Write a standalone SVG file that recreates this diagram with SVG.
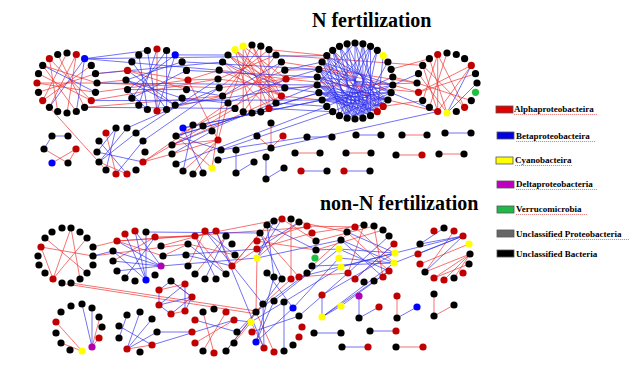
<svg xmlns="http://www.w3.org/2000/svg" width="634" height="381" viewBox="0 0 634 381">
<style>
circle{r:3.6px}
.k{fill:#000}.r{fill:#c00000}.b{fill:#0000ff}.y{fill:#ffff00}.g{fill:#20c040}.m{fill:#b000b0}
.re{fill:none;stroke:#ee3030;stroke-width:0.8;opacity:0.85}
.be{fill:none;stroke:#3030ee;stroke-width:0.8;opacity:0.85}
.title{font-family:"Liberation Serif",serif;font-weight:bold;font-size:20px;fill:#000}
.lt{font-family:"Liberation Serif",serif;font-weight:bold;font-size:9px;fill:#000}
.sq{stroke:#555;stroke-width:0.8}
.ul{stroke:#e05050;stroke-width:0.7;stroke-dasharray:1.2 0.8;fill:none}
</style>
<rect width="634" height="381" fill="#fff"/>
<text class="title" x="312" y="27">N fertilization</text>
<text class="title" x="320" y="210">non-N fertilization</text>

<g id="connectors">
<path class="re" d="M37 83L97 83M38.5 73.7L91.3 100.6M42.7 65.4L76.3 111.5M49.4 58.7L57.7 111.5M76.3 54.5L49.4 107.3M67 53L42.7 100.6M57.7 54.5L84.6 107.3M38.5 92.3L95.5 73.7M42.7 100.6L91.3 65.4M37 83L95.5 92.3M49.4 58.7L91.3 100.6M76.3 54.5L67 113M42.7 65.4L97 83
M49.4 107.3L106 170M97 83L126 80M95.5 73.7L127.5 70.4M91.3 100.6L218 79M97 83L219.2 87.8M95.5 92.3L188 80M84.6 107.3L222.6 96
M127.5 70.4L188 80M157 49L157 111M188 80L218 79M188 80L219.2 70.2M188 80L218 140M157 111L222.6 96M127.5 70.4L186.5 89.6
M235 49.6L281.4 96M235 49.6L276 103M243.2 46.2L269 108.4M252 45L281.4 96M260.8 46.2L260.8 111.8M269 49.6L269 108.4M228 55L284.8 87.8M222.6 62L281.4 96M219.2 70.2L286 79M243.2 46.2L286 79M252 45L228 103M260.8 46.2L222.6 96M269 49.6L219.2 87.8M276 55L235 108.4M281.4 62L243.2 111.8M235 49.6L252 113M243.2 46.2L243.2 111.8M228 55L276 103M222.6 62L269 108.4M219.2 70.2L281.4 96M218 79L284.8 87.8M219.2 87.8L286 79M252 45L276 103M276 55L218 79M284.8 70.2L222.6 96M235 49.6L284.8 87.8M228 55L281.4 96
M286 79L317.2 77M284.8 70.2L318.9 69.3M281.4 62L417 83M276 55L422.7 65.4M286 79L418.5 92.3M284.8 87.8L417 83M269 49.6L326.8 55.6M281.4 96L322.1 100
M228 103L143 162M235 108.4L143 162M222.6 96L212 168M228 103L218 140M176 136L286 79M172 145L281.4 96
M322.1 62L383.2 106.4M332.7 50.3L377.3 111.7M317.2 77L387.9 100M318.9 69.3L392.8 85
M392.8 77L417 83M391.1 69.3L429.4 58.7M387.9 100L437.7 111.5M392.8 85L418.5 92.3M383.2 106.4L422.7 100.6
M437.7 54.5L437.7 111.5M422.7 65.4L464.6 107.3M418.5 73.7L447 113M417 83L471.3 100.6M418.5 92.3L471.3 65.4M437.7 54.5L464.6 107.3M429.4 58.7L447 113M447 53L429.4 107.3M471.3 65.4L437.7 111.5M437.7 54.5L422.7 100.6M418.5 92.3L475.5 73.7M422.7 65.4L437.7 111.5
M106 133L116 174M99 162L127 174M143 162L172 154
M218 140L172 154M218 140L172 145M218 140L183 171M212 168L176 136M218 140L193 174
M44 149L68 163M76 149L52 163M76 149L68 163
M271 123L271 148M257 136L271 148M283 136L271 148M295 153L320 153M346 153L371 153M396 155L422 155M439 154L464 154M402 135L427 135"/>
<path class="be" d="M84.6 58.7L76.3 111.5M84.6 58.7L49.4 107.3M42.7 65.4L95.5 92.3
M84.6 58.7L147.4 50.5M84.6 58.7L219.2 70.2M84.6 58.7L326.8 55.6M95.5 73.7L222.6 62M97 83L317.2 85M91.3 100.6L322.1 100M84.6 107.3L235 108.4
M157 49L138.8 105.1M166.6 50.5L131.9 98.2M147.4 50.5L157 111M175.2 54.9L127.5 89.6M182.1 61.8L126 80M131.9 61.8L166.6 109.5M126 80L182.1 98.2M127.5 89.6L147.4 109.5M126 80L175.2 105.1M131.9 98.2L186.5 70.4M138.8 54.9L147.4 109.5M175.2 54.9L157 111M127.5 89.6L186.5 89.6M166.6 50.5L166.6 109.5M127.5 70.4L175.2 105.1
M175.2 54.9L228 55M182.1 61.8L318.9 69.3M186.5 70.4L317.2 77M186.5 89.6L222.6 96M182.1 98.2L228 103M175.2 105.1L317.2 85
M281.4 62L222.6 96M286 79L228 103M222.6 62L284.8 87.8
M284.8 70.2L322.1 62M284.8 87.8L318.9 92.7M276 103L326.8 106.4M269 108.4L332.7 111.7M286 79L318.9 69.3
M322.1 100L392.8 85M322.1 100L391.1 92.7M322.1 100L387.9 100M322.1 100L383.2 106.4M322.1 100L377.3 111.7
M318.9 92.7L391.1 92.7M318.9 92.7L387.9 100M318.9 92.7L383.2 106.4M318.9 92.7L377.3 111.7M318.9 92.7L370.5 115.7
M317.2 85L387.9 100M317.2 85L383.2 106.4M317.2 85L377.3 111.7M317.2 85L370.5 115.7M317.2 85L362.9 118.2
M317.2 77L392.8 85M317.2 77L387.9 100M317.2 77L377.3 111.7M317.2 77L362.9 118.2M317.2 77L355 119
M318.9 69.3L391.1 92.7M318.9 69.3L383.2 106.4M318.9 69.3L370.5 115.7M318.9 69.3L355 119M318.9 69.3L347.1 118.2
M322.1 62L392.8 85M322.1 62L387.9 100M322.1 62L377.3 111.7M322.1 62L362.9 118.2M322.1 62L347.1 118.2
M326.8 55.6L391.1 92.7M326.8 55.6L383.2 106.4M326.8 55.6L370.5 115.7M326.8 55.6L355 119M326.8 55.6L339.5 115.7
M332.7 50.3L387.9 100M332.7 50.3L370.5 115.7M332.7 50.3L362.9 118.2M332.7 50.3L347.1 118.2
M339.5 46.3L383.2 106.4M339.5 46.3L370.5 115.7M339.5 46.3L355 119
M347.1 43.8L377.3 111.7M347.1 43.8L362.9 118.2M347.1 43.8L347.1 118.2
M355 43L383.2 106.4M355 43L370.5 115.7M355 43L355 119
M362.9 43.8L377.3 111.7M362.9 43.8L362.9 118.2M362.9 43.8L347.1 118.2
M370.5 46.3L370.5 115.7M370.5 46.3L355 119M370.5 46.3L339.5 115.7
M377.3 50.3L362.9 118.2M377.3 50.3L347.1 118.2M387.9 62L355 119M383.2 55.6L377.3 111.7
M339.5 115.7L391.1 92.7M332.7 111.7L392.8 85M326.8 106.4L392.8 77M347.1 118.2L387.9 100M355 43L317.2 85M370.5 46.3L322.1 100
M392.8 85L418.5 73.7M391.1 92.7L437.7 111.5
M322.1 100L183 128M318.9 92.7L176 136M127 128L219.2 87.8M218 160L437.7 111.5
M447 113L471.3 65.4M447 113L477 83
M99 141L127 174M97 152L116 128M99 162L136 133M97 152L143 162M106 170L116 128M116 174L143 141M127 128L99 162
M143 141L219.2 87.8M136 133L218 79
M183 128L203 173M176 136L221 150M193 125L183 171M172 154L212 131
M183 128L322.1 100M176 136L318.9 92.7M172 145L317.2 85M176 164L326.8 106.4M221 150L332.7 111.7
M52 136L68 136M44 149L52 136M236 150L236 173M236 173L254 162M266 157L266 179M266 179L284 168M301 171L327 171M344 171L370 171M356 135L381 135M445 133L471 133M307 137L332 137M221 150L307 137"/>

<path class="re" d="M41 247L53 279M53 279L87 238M53 279L71 228M71 228L80 279M41 247L93 256M45 238L87 273
M71 283L256 311M66 284L257 314M93 247L117 241M117 241L195 236M195 236L282 219M93 256L188 244M117 241L312 227
M155 237L113 261M117 241L163 256M155 237L195 236M163 256L188 244M161 246L216 231
M195 236L226 274M205 231L188 266M216 231L232 266M188 244L235 255M226 236L195 274M232 266L257 249M232 266L267 225M232 266L260 233
M257 241L307 226M257 249L312 233M257 258L299 222M257 241L316 250M282 219L316 241M260 233L299 277M291 219L291 279
M307 226L355 227M312 233L364 225M316 241L374 226M299 222L347 232M312 266L355 227M316 250L383 230M299 277L348 273
M257 258L256 311M291 279L256 311
M355 227L394 263M347 232L389 271M364 225L348 273M394 244L355 279M374 226L383 277
M470 254L434 278M470 254L444 280M470 254L454 278M470 254L425 272M469 264L434 278M469 244L420 264M454 231L425 272
M56 322L82 351M61 343L82 351M99 338L92 347M100 317L92 347
M127 349L152 345
M159 290L185 284M171 314L185 311M171 281L192 297
M226 312L203 351M203 312L214 353M234 320L195 343M226 351L256 312M234 343L251 322
M251 322L264 348M256 312L274 352
M397 296L397 318M434 294L434 316M434 316L454 305M396 347L423 347"/>
<path class="be" d="M93 256L113 251
M125 234L146 280M135 231L146 280M113 251L161 266M117 241L161 266M113 261L161 266M146 232L146 280M155 237L125 278M135 231L161 266M117 271L161 266M113 251L146 280
M146 232L260 233M161 266L257 258M163 256L257 249
M188 244L226 274M205 231L235 255M226 236L205 279M186 255L232 266M195 236L216 279
M216 231L264 348M205 231L263 304
M267 225L274 277M274 221L257 258M282 219L257 258M267 225L316 250M299 222L257 249M260 233L282 279
M316 250L339 249M257 258L341 240M312 266L394 263M299 277L395 253
M274 277L256 342M282 279L263 304M267 273L293 308M307 273L256 312
M341 240L394 263M339 249L395 253M339 258L394 263M341 267L395 253M348 273L389 236M339 249L389 271M347 232L395 253M355 279L394 244M341 240L383 277
M394 263L322 317M395 253L322 295M389 271L341 306M389 271L322 317
M395 253L463 236M394 263L463 236
M463 236L420 244M463 236L418 254M463 236L425 272M444 228L420 244
M82 304L92 347M92 308L92 347
M127 315L119 338M127 349L140 312M127 349L152 319M127 349L157 332M119 326L152 345
M152 345L234 320M157 332L192 332
M159 290L159 305M159 305L171 314M159 290L171 281M171 281L192 297M159 305L192 297M185 311L192 297M185 284L185 311M185 284L159 305M171 314L192 297
M195 320L237 332M237 332L256 312M234 320L251 322M226 351L263 304
M274 301L256 342M284 302L251 322M263 304L264 348M293 308L256 342M299 316L252 332M284 302L284 351
M284 302L341 267M293 308L339 258M299 316L348 273M274 301L339 249
M322 295L322 317M359 296L359 318M359 318L379 307M397 318L417 307M314 333L341 333M370 331L396 331M342 347L368 347M322 317L341 306"/>
</g>

<g id="clusterA">
<circle class="k" cx="67" cy="53"/><circle class="r" cx="76.3" cy="54.5"/><circle class="b" cx="84.6" cy="58.7"/><circle class="k" cx="91.3" cy="65.4"/><circle class="k" cx="95.5" cy="73.7"/><circle class="k" cx="97" cy="83"/><circle class="k" cx="95.5" cy="92.3"/><circle class="r" cx="91.3" cy="100.6"/><circle class="k" cx="84.6" cy="107.3"/><circle class="k" cx="76.3" cy="111.5"/><circle class="k" cx="67" cy="113"/><circle class="k" cx="57.7" cy="111.5"/><circle class="k" cx="49.4" cy="107.3"/><circle class="r" cx="42.7" cy="100.6"/><circle class="k" cx="38.5" cy="92.3"/><circle class="r" cx="37" cy="83"/><circle class="k" cx="38.5" cy="73.7"/><circle class="k" cx="42.7" cy="65.4"/><circle class="r" cx="49.4" cy="58.7"/><circle class="k" cx="57.7" cy="54.5"/>
</g>
<g id="clusterB">
<circle class="r" cx="157" cy="49"/><circle class="k" cx="166.6" cy="50.5"/><circle class="b" cx="175.2" cy="54.9"/><circle class="k" cx="182.1" cy="61.8"/><circle class="k" cx="186.5" cy="70.4"/><circle class="r" cx="188" cy="80"/><circle class="k" cx="186.5" cy="89.6"/><circle class="k" cx="182.1" cy="98.2"/><circle class="k" cx="175.2" cy="105.1"/><circle class="k" cx="166.6" cy="109.5"/><circle class="r" cx="157" cy="111"/><circle class="k" cx="147.4" cy="109.5"/><circle class="k" cx="138.8" cy="105.1"/><circle class="k" cx="131.9" cy="98.2"/><circle class="k" cx="127.5" cy="89.6"/><circle class="k" cx="126" cy="80"/><circle class="r" cx="127.5" cy="70.4"/><circle class="k" cx="131.9" cy="61.8"/><circle class="k" cx="138.8" cy="54.9"/><circle class="k" cx="147.4" cy="50.5"/>
</g>
<g id="clusterC">
<circle class="k" cx="252" cy="45"/><circle class="k" cx="260.8" cy="46.2"/><circle class="k" cx="269" cy="49.6"/><circle class="k" cx="276" cy="55"/><circle class="k" cx="281.4" cy="62"/><circle class="k" cx="284.8" cy="70.2"/><circle class="r" cx="286" cy="79"/><circle class="k" cx="284.8" cy="87.8"/><circle class="r" cx="281.4" cy="96"/><circle class="k" cx="276" cy="103"/><circle class="r" cx="269" cy="108.4"/><circle class="k" cx="260.8" cy="111.8"/><circle class="k" cx="252" cy="113"/><circle class="k" cx="243.2" cy="111.8"/><circle class="k" cx="235" cy="108.4"/><circle class="k" cx="228" cy="103"/><circle class="k" cx="222.6" cy="96"/><circle class="k" cx="219.2" cy="87.8"/><circle class="k" cx="218" cy="79"/><circle class="k" cx="219.2" cy="70.2"/><circle class="k" cx="222.6" cy="62"/><circle class="k" cx="228" cy="55"/><circle class="y" cx="235" cy="49.6"/><circle class="y" cx="243.2" cy="46.2"/>
</g>
<g id="clusterD">
<circle class="k" cx="355" cy="43"/><circle class="k" cx="362.9" cy="43.8"/><circle class="k" cx="370.5" cy="46.3"/><circle class="k" cx="377.3" cy="50.3"/><circle class="y" cx="383.2" cy="55.6"/><circle class="k" cx="387.9" cy="62"/><circle class="k" cx="391.1" cy="69.3"/><circle class="k" cx="392.8" cy="77"/><circle class="k" cx="392.8" cy="85"/><circle class="k" cx="391.1" cy="92.7"/><circle class="k" cx="387.9" cy="100"/><circle class="r" cx="383.2" cy="106.4"/><circle class="r" cx="377.3" cy="111.7"/><circle class="k" cx="370.5" cy="115.7"/><circle class="k" cx="362.9" cy="118.2"/><circle class="k" cx="355" cy="119"/><circle class="k" cx="347.1" cy="118.2"/><circle class="k" cx="339.5" cy="115.7"/><circle class="k" cx="332.7" cy="111.7"/><circle class="k" cx="326.8" cy="106.4"/><circle class="k" cx="322.1" cy="100"/><circle class="k" cx="318.9" cy="92.7"/><circle class="k" cx="317.2" cy="85"/><circle class="k" cx="317.2" cy="77"/><circle class="k" cx="318.9" cy="69.3"/><circle class="k" cx="322.1" cy="62"/><circle class="k" cx="326.8" cy="55.6"/><circle class="k" cx="332.7" cy="50.3"/><circle class="k" cx="339.5" cy="46.3"/><circle class="k" cx="347.1" cy="43.8"/>
</g>
<g id="clusterE">
<circle class="k" cx="447" cy="53"/><circle class="k" cx="456.3" cy="54.5"/><circle class="k" cx="464.6" cy="58.7"/><circle class="r" cx="471.3" cy="65.4"/><circle class="k" cx="475.5" cy="73.7"/><circle class="k" cx="477" cy="83"/><circle class="g" cx="475.5" cy="92.3"/><circle class="k" cx="471.3" cy="100.6"/><circle class="r" cx="464.6" cy="107.3"/><circle class="k" cx="456.3" cy="111.5"/><circle class="y" cx="447" cy="113"/><circle class="r" cx="437.7" cy="111.5"/><circle class="k" cx="429.4" cy="107.3"/><circle class="k" cx="422.7" cy="100.6"/><circle class="r" cx="418.5" cy="92.3"/><circle class="k" cx="417" cy="83"/><circle class="k" cx="418.5" cy="73.7"/><circle class="k" cx="422.7" cy="65.4"/><circle class="k" cx="429.4" cy="58.7"/><circle class="r" cx="437.7" cy="54.5"/>
</g>
<g id="clusterF">
<circle class="r" cx="106" cy="133"/><circle class="k" cx="116" cy="128"/><circle class="k" cx="127" cy="128"/><circle class="k" cx="136" cy="133"/><circle class="k" cx="143" cy="141"/><circle class="k" cx="145" cy="152"/><circle class="r" cx="143" cy="162"/><circle class="k" cx="136" cy="170"/><circle class="r" cx="127" cy="174"/><circle class="r" cx="116" cy="174"/><circle class="k" cx="106" cy="170"/><circle class="k" cx="99" cy="162"/><circle class="k" cx="97" cy="152"/><circle class="k" cx="99" cy="141"/>
</g>
<g id="clusterG">
<circle class="b" cx="183" cy="128"/><circle class="k" cx="193" cy="125"/><circle class="k" cx="203" cy="126"/><circle class="k" cx="212" cy="131"/><circle class="r" cx="218" cy="140"/><circle class="k" cx="221" cy="150"/><circle class="k" cx="218" cy="160"/><circle class="y" cx="212" cy="168"/><circle class="k" cx="203" cy="173"/><circle class="k" cx="193" cy="174"/><circle class="k" cx="183" cy="171"/><circle class="k" cx="176" cy="164"/><circle class="k" cx="172" cy="154"/><circle class="k" cx="172" cy="145"/><circle class="k" cx="176" cy="136"/>
</g>
<g id="smallTop">
<circle class="k" cx="52" cy="136"/><circle class="k" cx="68" cy="136"/><circle class="k" cx="44" cy="149"/><circle class="r" cx="76" cy="149"/><circle class="b" cx="52" cy="163"/><circle class="k" cx="68" cy="163"/>
<circle class="k" cx="271" cy="123"/><circle class="k" cx="257" cy="136"/><circle class="r" cx="283" cy="136"/><circle class="k" cx="271" cy="148"/>
<circle class="k" cx="236" cy="150"/><circle class="k" cx="236" cy="173"/><circle class="k" cx="254" cy="162"/>
<circle class="k" cx="266" cy="157"/><circle class="k" cx="266" cy="179"/><circle class="k" cx="284" cy="168"/>
<circle class="k" cx="307" cy="137"/><circle class="k" cx="332" cy="137"/><circle class="k" cx="356" cy="135"/><circle class="k" cx="381" cy="135"/><circle class="k" cx="402" cy="135"/><circle class="k" cx="427" cy="135"/><circle class="k" cx="445" cy="133"/><circle class="k" cx="471" cy="133"/>
<circle class="k" cx="295" cy="153"/><circle class="k" cx="320" cy="153"/><circle class="k" cx="346" cy="153"/><circle class="k" cx="371" cy="153"/><circle class="k" cx="396" cy="155"/><circle class="r" cx="422" cy="155"/><circle class="k" cx="439" cy="154"/><circle class="k" cx="464" cy="154"/>
<circle class="r" cx="301" cy="171"/><circle class="k" cx="327" cy="171"/><circle class="r" cx="344" cy="171"/><circle class="k" cx="370" cy="171"/>
</g>

<g id="clusterH">
<circle class="k" cx="62" cy="228"/><circle class="k" cx="71" cy="228"/><circle class="k" cx="80" cy="232"/><circle class="k" cx="87" cy="238"/><circle class="k" cx="93" cy="247"/><circle class="k" cx="93" cy="256"/><circle class="k" cx="93" cy="265"/><circle class="k" cx="87" cy="273"/><circle class="k" cx="80" cy="279"/><circle class="k" cx="71" cy="283"/><circle class="k" cx="62" cy="283"/><circle class="r" cx="53" cy="279"/><circle class="k" cx="45" cy="273"/><circle class="k" cx="39" cy="265"/><circle class="k" cx="38" cy="256"/><circle class="r" cx="41" cy="247"/><circle class="k" cx="45" cy="238"/><circle class="k" cx="52" cy="232"/>
</g>
<g id="clusterI">
<circle class="r" cx="125" cy="234"/><circle class="r" cx="135" cy="231"/><circle class="k" cx="146" cy="232"/><circle class="r" cx="155" cy="237"/><circle class="k" cx="161" cy="246"/><circle class="k" cx="163" cy="256"/><circle class="m" cx="161" cy="266"/><circle class="k" cx="155" cy="275"/><circle class="b" cx="146" cy="280"/><circle class="k" cx="135" cy="281"/><circle class="k" cx="125" cy="278"/><circle class="k" cx="117" cy="271"/><circle class="k" cx="113" cy="261"/><circle class="k" cx="113" cy="251"/><circle class="r" cx="117" cy="241"/>
</g>
<g id="clusterJ">
<circle class="r" cx="195" cy="236"/><circle class="r" cx="205" cy="231"/><circle class="r" cx="216" cy="231"/><circle class="k" cx="226" cy="236"/><circle class="k" cx="232" cy="244"/><circle class="k" cx="235" cy="255"/><circle class="r" cx="232" cy="266"/><circle class="k" cx="226" cy="274"/><circle class="k" cx="216" cy="279"/><circle class="k" cx="205" cy="279"/><circle class="k" cx="195" cy="274"/><circle class="k" cx="188" cy="266"/><circle class="k" cx="186" cy="255"/><circle class="k" cx="188" cy="244"/>
</g>
<g id="clusterK">
<circle class="k" cx="260" cy="233"/><circle class="k" cx="267" cy="225"/><circle class="k" cx="274" cy="221"/><circle class="r" cx="282" cy="219"/><circle class="k" cx="291" cy="219"/><circle class="k" cx="299" cy="222"/><circle class="r" cx="307" cy="226"/><circle class="r" cx="312" cy="233"/><circle class="k" cx="316" cy="241"/><circle class="k" cx="316" cy="250"/><circle class="g" cx="315" cy="258"/><circle class="k" cx="312" cy="266"/><circle class="k" cx="307" cy="273"/><circle class="r" cx="299" cy="277"/><circle class="r" cx="291" cy="279"/><circle class="k" cx="282" cy="279"/><circle class="k" cx="274" cy="277"/><circle class="k" cx="267" cy="273"/><circle class="r" cx="257" cy="241"/><circle class="r" cx="257" cy="249"/><circle class="y" cx="257" cy="258"/>
</g>
<g id="clusterL">
<circle class="r" cx="355" cy="227"/><circle class="k" cx="364" cy="225"/><circle class="k" cx="374" cy="226"/><circle class="k" cx="383" cy="230"/><circle class="k" cx="389" cy="236"/><circle class="r" cx="394" cy="244"/><circle class="y" cx="395" cy="253"/><circle class="y" cx="394" cy="263"/><circle class="r" cx="389" cy="271"/><circle class="r" cx="383" cy="277"/><circle class="k" cx="374" cy="281"/><circle class="k" cx="364" cy="282"/><circle class="r" cx="355" cy="279"/><circle class="r" cx="348" cy="273"/><circle class="y" cx="341" cy="267"/><circle class="y" cx="339" cy="258"/><circle class="y" cx="339" cy="249"/><circle class="k" cx="341" cy="240"/><circle class="k" cx="347" cy="232"/>
</g>
<g id="clusterM">
<circle class="r" cx="434" cy="231"/><circle class="k" cx="444" cy="228"/><circle class="r" cx="454" cy="231"/><circle class="r" cx="463" cy="236"/><circle class="y" cx="469" cy="244"/><circle class="k" cx="470" cy="254"/><circle class="k" cx="469" cy="264"/><circle class="r" cx="463" cy="273"/><circle class="k" cx="454" cy="278"/><circle class="r" cx="444" cy="280"/><circle class="r" cx="434" cy="278"/><circle class="k" cx="425" cy="272"/><circle class="r" cx="420" cy="264"/><circle class="r" cx="418" cy="254"/><circle class="k" cx="420" cy="244"/>
</g>
<g id="clusterN">
<circle class="k" cx="71" cy="306"/><circle class="k" cx="82" cy="304"/><circle class="k" cx="92" cy="308"/><circle class="k" cx="99" cy="317"/><circle class="k" cx="102" cy="327"/><circle class="r" cx="99" cy="338"/><circle class="m" cx="92" cy="347"/><circle class="y" cx="82" cy="351"/><circle class="k" cx="70" cy="350"/><circle class="k" cx="61" cy="343"/><circle class="k" cx="56" cy="333"/><circle class="r" cx="56" cy="322"/><circle class="k" cx="61" cy="312"/>
</g>
<g id="clusterO">
<circle class="k" cx="127" cy="315"/><circle class="k" cx="140" cy="312"/><circle class="k" cx="152" cy="319"/><circle class="k" cx="119" cy="326"/><circle class="k" cx="119" cy="338"/><circle class="r" cx="127" cy="349"/><circle class="k" cx="140" cy="352"/><circle class="r" cx="152" cy="345"/><circle class="k" cx="157" cy="332"/>
</g>
<g id="clusterP">
<circle class="k" cx="171" cy="281"/><circle class="r" cx="159" cy="290"/><circle class="r" cx="185" cy="284"/><circle class="r" cx="192" cy="297"/><circle class="r" cx="159" cy="305"/><circle class="r" cx="171" cy="314"/><circle class="r" cx="185" cy="311"/>
</g>
<g id="clusterQ">
<circle class="k" cx="203" cy="312"/><circle class="k" cx="214" cy="309"/><circle class="r" cx="226" cy="312"/><circle class="r" cx="234" cy="320"/><circle class="k" cx="237" cy="332"/><circle class="k" cx="234" cy="343"/><circle class="k" cx="226" cy="351"/><circle class="r" cx="214" cy="353"/><circle class="k" cx="203" cy="351"/><circle class="r" cx="195" cy="343"/><circle class="r" cx="192" cy="332"/><circle class="r" cx="195" cy="320"/>
</g>
<g id="clusterR">
<circle class="k" cx="256" cy="312"/><circle class="k" cx="263" cy="304"/><circle class="k" cx="274" cy="301"/><circle class="k" cx="284" cy="302"/><circle class="b" cx="293" cy="308"/><circle class="k" cx="299" cy="316"/><circle class="r" cx="302" cy="327"/><circle class="r" cx="299" cy="337"/><circle class="k" cx="293" cy="345"/><circle class="k" cx="284" cy="351"/><circle class="r" cx="274" cy="352"/><circle class="r" cx="264" cy="348"/><circle class="b" cx="256" cy="342"/><circle class="r" cx="252" cy="332"/><circle class="y" cx="251" cy="322"/>
</g>
<g id="smallBottom">
<circle class="r" cx="322" cy="295"/><circle class="y" cx="322" cy="317"/><circle class="y" cx="341" cy="306"/>
<circle class="m" cx="359" cy="296"/><circle class="k" cx="359" cy="318"/><circle class="r" cx="379" cy="307"/>
<circle class="r" cx="397" cy="296"/><circle class="k" cx="397" cy="318"/><circle class="b" cx="417" cy="307"/>
<circle class="k" cx="434" cy="294"/><circle class="k" cx="434" cy="316"/><circle class="k" cx="454" cy="305"/>
<circle class="k" cx="314" cy="333"/><circle class="k" cx="341" cy="333"/><circle class="k" cx="370" cy="331"/><circle class="r" cx="396" cy="331"/>
<circle class="k" cx="342" cy="347"/><circle class="r" cx="368" cy="347"/><circle class="k" cx="396" cy="347"/><circle class="r" cx="423" cy="347"/>
</g>

<g id="legend">
<rect class="sq" x="496" y="106" width="17" height="7" fill="#e00000"/>
<text class="lt" x="514" y="112">Alphaproteobacteira</text>
<rect class="sq" x="497" y="132" width="17" height="7" fill="#0000e0"/>
<text class="lt" x="516" y="139">Betaproteobacteira</text>
<rect class="sq" x="496" y="157" width="17" height="7" fill="#ffff00"/>
<text class="lt" x="515" y="163">Cyanobacteira</text>
<rect class="sq" x="497" y="181" width="17" height="7" fill="#c000c0"/>
<text class="lt" x="516" y="187">Deltaproteobacteria</text>
<rect class="sq" x="497" y="206" width="17" height="7" fill="#20b848"/>
<text class="lt" x="516" y="212">Verrucomicrobia</text>
<rect class="sq" x="497" y="230" width="17" height="7" fill="#666666"/>
<text class="lt" x="516" y="237">Unclassified Proteobacteria</text>
<rect class="sq" x="497" y="250" width="17" height="7" fill="#000000"/>
<text class="lt" x="516" y="257">Unclassified Bacteria</text>
<path class="ul" d="M514 114.5H597M516 141.5H596M515 165.5H572M516 189.5H597M516 214.5H587M556 239.5H629"/>
</g>
</svg>
